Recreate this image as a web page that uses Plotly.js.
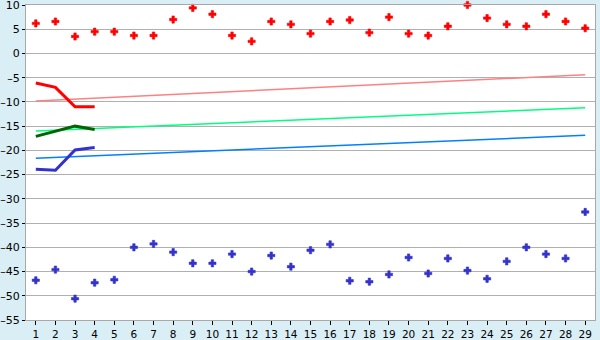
<!DOCTYPE html>
<html><head><meta charset="utf-8">
<script src="https://cdn.plot.ly/plotly-3.0.1.min.js"></script>
<style>body{margin:0;background:#DAEEF5;}#chart{width:600px;height:340px;}</style>
</head><body><div id="chart"></div>
<script>
const categories = [1,2,3,4,5,6,7,8,9,10,11,12,13,14,15,16,17,18,19,20,21,22,23,24,25,26,27,28,29];
const yTicks = [10,5,0,-5,-10,-15,-20,-25,-30,-35,-40,-45,-50,-55];
const redPoints = [6.2,6.6,3.5,4.5,4.5,3.7,3.7,7.0,9.4,8.1,3.7,2.5,6.6,6.0,4.1,6.6,6.9,4.3,7.5,4.1,3.7,5.6,10.0,7.3,6.0,5.6,8.1,6.6,5.2];
const bluePoints = [-46.8,-44.6,-50.6,-47.3,-46.7,-40.0,-39.3,-41.0,-43.3,-43.3,-41.4,-45.0,-41.7,-44.0,-40.6,-39.4,-46.9,-47.1,-45.6,-42.1,-45.4,-42.3,-44.8,-46.5,-42.9,-40.0,-41.4,-42.3,-32.7];
const shortX = [1,2,3,4];
const redLine = [-6.1,-7.0,-11.0,-11.0];
const greenLine = [-17.1,-16.0,-15.0,-15.7];
const blueLine = [-23.9,-24.1,-19.9,-19.4];
const trendX = [1,29];
const pinkTrend = [-9.8,-4.4];
const greenTrend = [-16.0,-11.2];
const blueTrend = [-21.6,-16.9];

const traces = [
  {x:trendX,y:pinkTrend,mode:'lines',line:{color:'#FF8080',width:1.5}},
  {x:trendX,y:greenTrend,mode:'lines',line:{color:'#00FF80',width:1.5}},
  {x:trendX,y:blueTrend,mode:'lines',line:{color:'#0080FF',width:1.5}},
  {x:shortX,y:redLine,mode:'lines',line:{color:'#FF0000',width:3}},
  {x:shortX,y:greenLine,mode:'lines',line:{color:'#006400',width:3}},
  {x:shortX,y:blueLine,mode:'lines',line:{color:'#3333CC',width:3}},
  {x:categories,y:redPoints,mode:'markers',cliponaxis:false,marker:{symbol:'cross',size:6,color:'#FF0000',line:{width:0.6,color:'#FF0000'}}},
  {x:categories,y:bluePoints,mode:'markers',cliponaxis:false,marker:{symbol:'cross',size:6,color:'#3333CC',line:{width:0.6,color:'#3333CC'}}}
];
const layout = {
  width:600,height:340,
  margin:{l:26,r:5,t:5,b:20},
  paper_bgcolor:'#DAEEF5',plot_bgcolor:'#FFFFFF',
  showlegend:false,
  font:{family:'DejaVu Sans',size:11,color:'#000'},
  xaxis:{range:[0.5,29.5],tickmode:'array',tickvals:categories,ticktext:categories.map(String),
    ticks:'outside',ticklen:4,tickcolor:'#000',showgrid:false,zeroline:false,
    showline:true,linecolor:'#A8A8A8',mirror:true,tickfont:{size:10.5},ticklabeloverflow:'allow'},
  yaxis:{range:[-55,10],tickmode:'array',tickvals:yTicks,ticktext:yTicks.map(v=>v<0?'\u2013'+(-v):String(v)),
    ticks:'outside',ticklen:3,tickcolor:'#000',ticklabeloverflow:'allow',
    gridcolor:'#B0B0B0',gridwidth:1,zeroline:false,showline:true,linecolor:'#A8A8A8',mirror:true,
    tickfont:{size:11}}
};
Plotly.newPlot('chart',traces,layout,{displayModeBar:false,staticPlot:true});
</script></body></html>
